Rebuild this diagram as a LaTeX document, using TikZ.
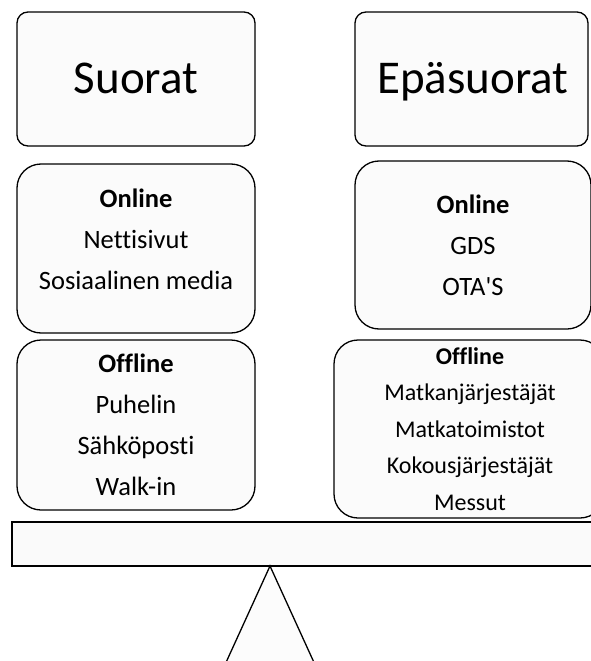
\documentclass[tikz,border=0pt]{standalone}
\usepackage{fontspec}
\setmainfont[Ligatures=NoCommon]{Carlito}
\tikzset{
  panel/.style={draw, line width=1.3pt, fill=gray!3, rounded corners=#1},
  panel/.default=24pt,
  title/.style={anchor=base, font=\fontsize{47}{50}\selectfont},
  listtext/.style={align=center, font=\fontsize{26.5}{41}\selectfont},
  smalllist/.style={align=center, font=\fontsize{24}{36.5}\selectfont}
}
\begin{document}
\begin{tikzpicture}[x=1pt,y=-1pt]
      \useasboundingbox (0,0) rectangle (590,661);

      % otsikot
      \node[panel=11pt, minimum width=238pt, minimum height=134pt] (suorat) at (136,79) {};
      \node[title] (suoratTxt) at (136,93) {Suorat};
      \node[panel=11pt, minimum width=233pt, minimum height=134pt] (epasuorat) at (471.5,79) {};
      \node[title] (epasuoratTxt) at (473,93) {Epäsuorat};

      % suorat kanavat
      \node[panel, minimum width=238pt, minimum height=169pt] (dirOn) at (136,248.5) {};
      \node[listtext] (dirOnTxt) at (136,239) {\textbf{Online}\\Nettisivut\\Sosiaalinen media};
      \node[panel, minimum width=238pt, minimum height=170pt] (dirOff) at (136,425) {};
      \node[listtext] (dirOffTxt) at (136,425) {\textbf{Offline}\\Puhelin\\Sähköposti\\Walk-in};

      % epäsuorat kanavat
      \node[panel, minimum width=236pt, minimum height=168pt] (indOn) at (473,245) {};
      \node[listtext] (indOnTxt) at (473,245) {\textbf{Online}\\GDS\\OTA\textquotesingle S};
      \node[panel, minimum width=270pt, minimum height=178pt] (indOff) at (469,429) {};
      \node[smalllist] (indOffTxt) at (470,429) {\textbf{Offline}\\Matkanjärjestäjät\\Matkatoimistot\\Kokousjärjestäjät\\Messut};

      % vaaka
      \draw[line width=1.3pt, fill=gray!4] (12,522) rectangle (600,566);
      \coordinate (apex) at (270,566);
      \draw[line width=1.3pt, fill=gray!2] (218,680) -- (apex) -- (322,680);
\end{tikzpicture}
\end{document}
